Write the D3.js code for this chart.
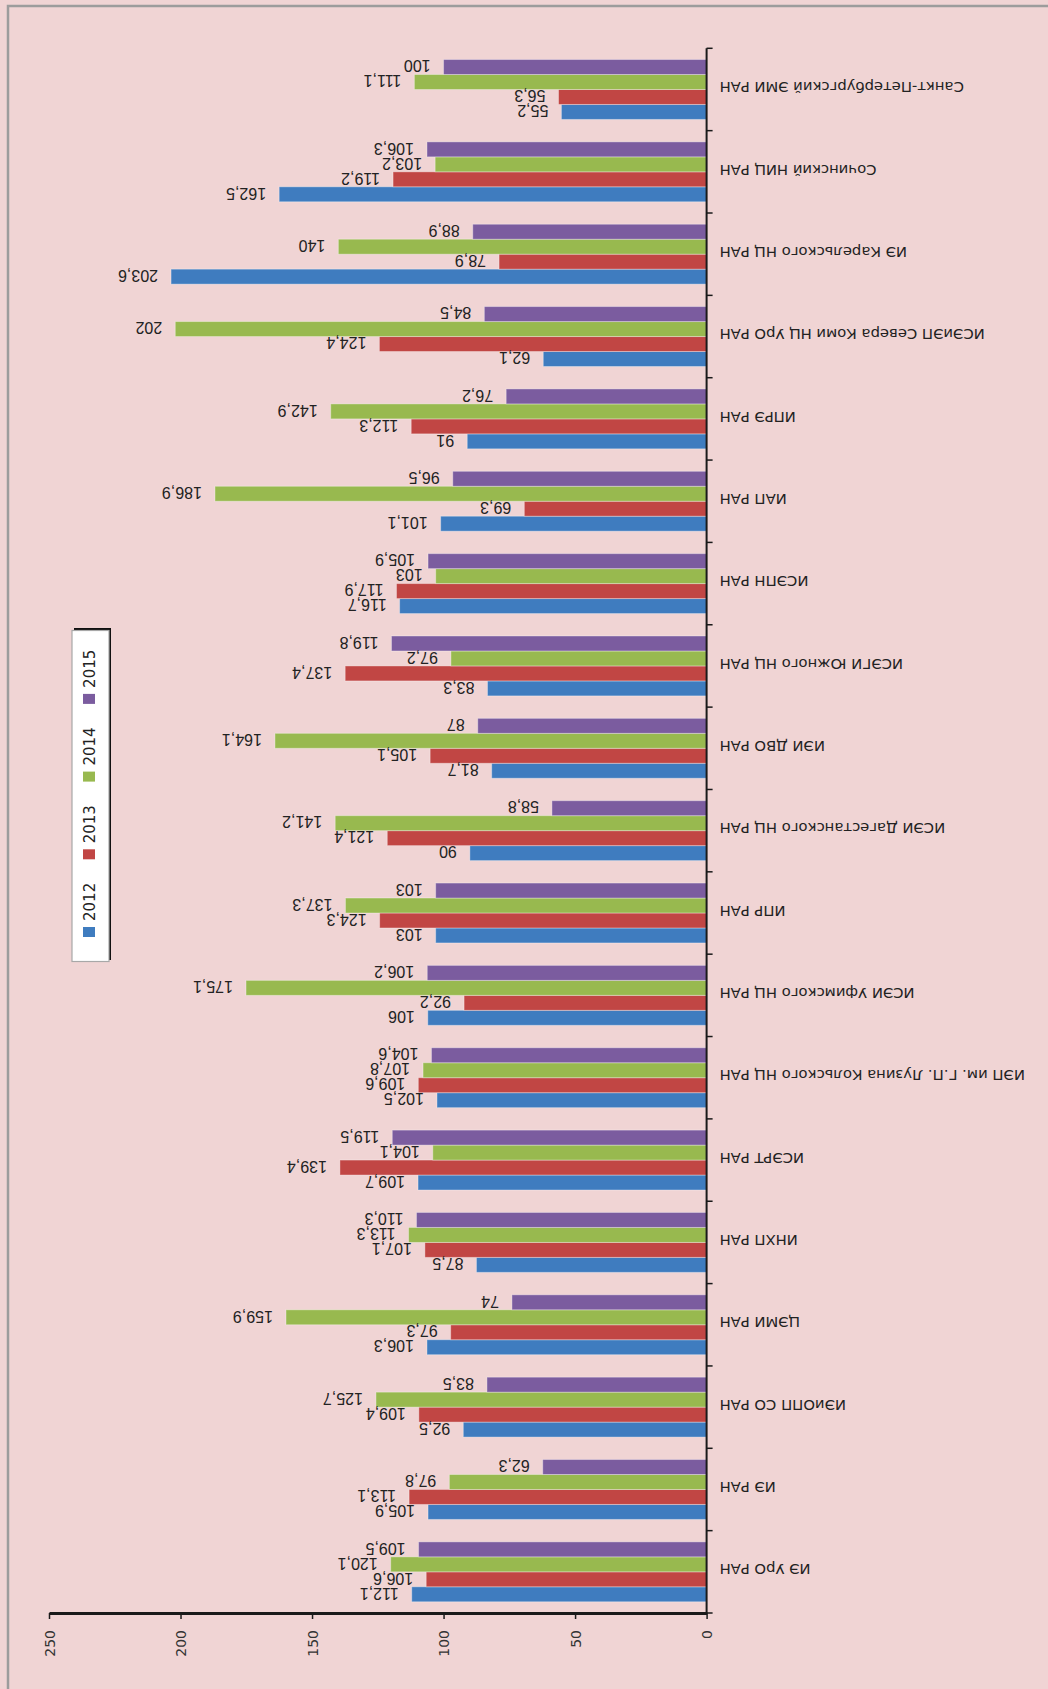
<!DOCTYPE html>
<html>
<head>
<meta charset="utf-8">
<script src="https://cdn.jsdelivr.net/npm/d3@7"></script>
<style>
  html, body { margin: 0; padding: 0; background: #f0d4d4; }
  svg { display: block; }
</style>
</head>
<body>
<svg id="chart"></svg>
<script>
// categories, top to bottom as drawn (the picture is upside down)
const categories = [
    "Санкт-Петербургский ЭМИ РАН",
    "Сочинский НИЦ РАН",
    "ИЭ Карельского НЦ РАН",
    "ИСЭиЭП Севера Коми НЦ УрО РАН",
    "ИПРЭ РАН",
    "ИАП РАН",
    "ИСЭПН РАН",
    "ИСЭГИ Южного НЦ РАН",
    "ИЭИ ДВО РАН",
    "ИСЭИ Дагестанского НЦ РАН",
    "ИПР РАН",
    "ИСЭИ Уфимского НЦ РАН",
    "ИЭП им. Г.П. Лузина Кольского НЦ РАН",
    "ИСЭРТ РАН",
    "ИНХП РАН",
    "ЦЭМИ РАН",
    "ИЭиОПП СО РАН",
    "ИЭ РАН",
    "ИЭ УрО РАН"
];

const years = ["2012", "2013", "2014", "2015"];

const values2012 = [55.2, 162.5, 203.6, 62.1, 91, 101.1, 116.7, 83.3, 81.7, 90, 103, 106, 102.5, 109.7, 87.5, 106.3, 92.5, 105.9, 112.1];
const values2013 = [56.3, 119.2, 78.9, 124.4, 112.3, 69.3, 117.9, 137.4, 105.1, 121.4, 124.3, 92.2, 109.6, 139.4, 107.1, 97.3, 109.4, 113.1, 106.6];
const values2014 = [111.1, 103.2, 140, 202, 142.9, 186.9, 103, 97.2, 164.1, 141.2, 137.3, 175.1, 107.8, 104.1, 113.3, 159.9, 125.7, 97.8, 120.1];
const values2015 = [100, 106.3, 88.9, 84.5, 76.2, 96.5, 105.9, 119.8, 87, 58.8, 103, 106.2, 104.6, 119.5, 110.3, 74, 83.5, 62.3, 109.5];

const valueTicks = [0, 50, 100, 150, 200, 250];

const colors = { "2012": "#3f7cbf", "2013": "#c14644", "2014": "#98b94f", "2015": "#7b5c9f" };

const seriesValues = { "2012": values2012, "2013": values2013, "2014": values2014, "2015": values2015 };

function drawChart() {
    const width = 1048, height = 1689;
    const svg = d3.select("#chart").attr("width", width).attr("height", height);

    // outer chart border (only left/top edges fall inside the window)
    svg.append("rect")
        .attr("x", 8).attr("y", 6)
        .attr("width", 1100).attr("height", 1750)
        .attr("fill", "#f0d4d4")
        .attr("stroke", "#9c9c9c")
        .attr("stroke-width", 2.5);

    const x = d3.scaleLinear().domain([0, 250]).range([706.6, 49]);

    const y = d3.scaleBand()
        .domain(categories)
        .range([48.3, 1613]);

    const ySub = d3.scaleBand()
        .domain(["2015", "2014", "2013", "2012"])
        .range([0, y.bandwidth()])
        .paddingOuter(0.75);

    const rows = [];
    categories.forEach((c, i) => {
        years.forEach(yr => rows.push({ cat: c, year: yr, value: seriesValues[yr][i] }));
    });

    const fmt = v => String(v).replace(".", ",");

    const g = svg.append("g");

    g.selectAll("rect.bar")
        .data(rows)
        .enter()
        .append("rect")
        .attr("class", "bar")
        .attr("x", d => x(d.value))
        .attr("y", d => y(d.cat) + ySub(d.year))
        .attr("width", d => x(0) - x(d.value))
        .attr("height", ySub.bandwidth())
        .attr("fill", d => colors[d.year])
        .attr("stroke", "rgba(255,255,255,0.35)")
        .attr("stroke-width", 1);

    // data labels, upside down
    g.selectAll("text.lbl")
        .data(rows)
        .enter()
        .append("text")
        .attr("class", "lbl")
        .attr("transform", d => `translate(${x(d.value) - 13},${y(d.cat) + ySub(d.year) + ySub.bandwidth() / 2 - 1}) rotate(180)`)
        .attr("dy", "0.36em")
        .attr("text-anchor", "start")
        .style("font-family", "'Liberation Sans', Arial, sans-serif")
        .style("font-size", "16px")
        .style("fill", "#222")
        .text(d => fmt(d.value));

    // category axis
    g.append("line")
        .attr("x1", x(0)).attr("x2", x(0))
        .attr("y1", y.range()[0]).attr("y2", y.range()[1])
        .attr("stroke", "#1a1a1a").attr("stroke-width", 2);

    const tickYs = categories.map(c => y(c)).concat([y.range()[1]]);
    g.selectAll("line.ctick")
        .data(tickYs)
        .enter()
        .append("line")
        .attr("class", "ctick")
        .attr("x1", x(0)).attr("x2", x(0) + 6)
        .attr("y1", d => d).attr("y2", d => d)
        .attr("stroke", "#1a1a1a").attr("stroke-width", 1.5);

    g.selectAll("text.cat")
        .data(categories)
        .enter()
        .append("text")
        .attr("class", "cat")
        .attr("transform", d => `translate(719.5,${y(d) + y.bandwidth() / 2 - 2}) rotate(180)`)
        .attr("dy", "0.36em")
        .attr("text-anchor", "end")
        .style("font-family", "'DejaVu Sans', Verdana, sans-serif")
        .style("font-size", "14.8px")
        .style("fill", "#222")
        .text(d => d);

    // value axis
    const xAxis = g.append("g")
        .attr("transform", `translate(0,${y.range()[1]})`)
        .call(d3.axisBottom(x).tickValues(valueTicks).tickSize(6).tickSizeOuter(0));

    xAxis.select(".domain").attr("stroke", "#1a1a1a").attr("stroke-width", 3);
    xAxis.selectAll(".tick line").attr("stroke", "#1a1a1a").attr("stroke-width", 1.5);
    xAxis.selectAll(".tick text")
        .attr("x", 0).attr("y", 0)
        .attr("dy", "0.36em")
        .attr("transform", "translate(0,17) rotate(-90)")
        .attr("text-anchor", "end")
        .style("font-family", "'DejaVu Sans', Verdana, sans-serif")
        .style("font-size", "14px")
        .style("fill", "#333");

    // legend, rotated
    const legend = svg.append("g");
    legend.append("rect")
        .attr("x", 74).attr("y", 628)
        .attr("width", 37).attr("height", 332)
        .attr("fill", "#111");
    legend.append("rect")
        .attr("x", 72).attr("y", 630.5)
        .attr("width", 37).attr("height", 331)
        .attr("fill", "#ffffff")
        .attr("stroke", "#a8a8a8")
        .attr("stroke-width", 1.2);

    const legendStep = 77.7;
    const items = legend.selectAll("g.item")
        .data(years)
        .enter()
        .append("g")
        .attr("class", "item")
        .attr("transform", (d, i) => `translate(89,${932 - i * legendStep})`);

    items.append("rect")
        .attr("x", -6).attr("y", -5)
        .attr("width", 12).attr("height", 10)
        .attr("fill", d => colors[d]);

    items.append("text")
        .attr("transform", "translate(1,-11) rotate(-90)")
        .attr("dy", "0.36em")
        .attr("text-anchor", "start")
        .style("font-family", "'DejaVu Sans', Verdana, sans-serif")
        .style("font-size", "15px")
        .style("fill", "#222")
        .text(d => d);
}

document.addEventListener("DOMContentLoaded", drawChart);
</script>
</body>
</html>
